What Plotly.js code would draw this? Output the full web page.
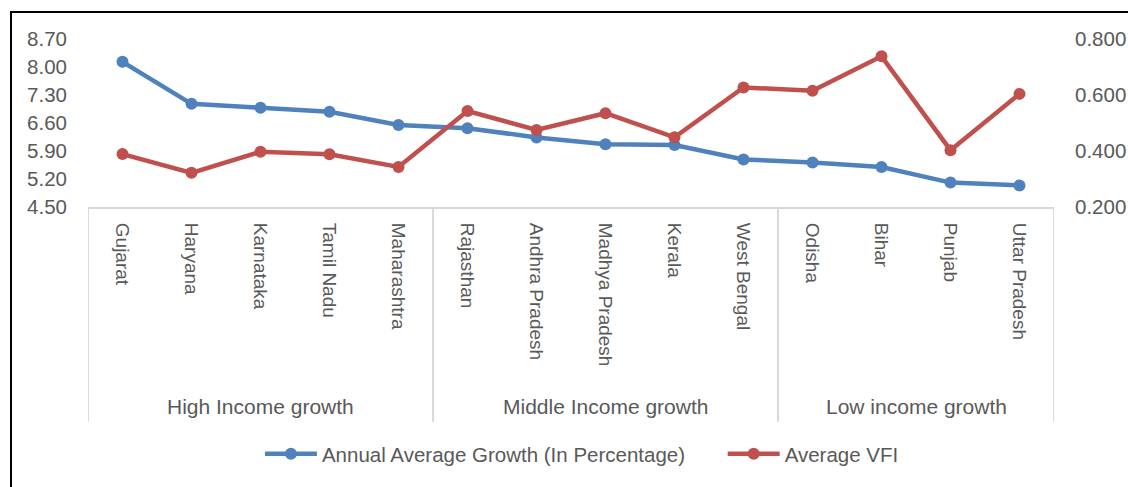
<!DOCTYPE html>
<html>
<head>
<meta charset="utf-8">
<script src="https://cdn.plot.ly/plotly-3.0.1.min.js"></script>
<style>
html,body{margin:0;padding:0;background:#fff;}
#wrap{position:relative;width:1128px;height:487px;overflow:hidden;}
#chart{width:1128px;height:487px;}
#frame{position:absolute;left:10px;top:11px;width:1300px;height:700px;border:2px solid #000;pointer-events:none;}
</style>
</head>
<body>
<div id="wrap"><div id="chart"></div><div id="frame"></div></div>
<script>
const states = ["Gujarat","Haryana","Karnataka","Tamil Nadu","Maharashtra","Rajasthan","Andhra Pradesh","Madhya Pradesh","Kerala","West Bengal","Odisha","Bihar","Punjab","Uttar Pradesh"];
const growth = [8.13,7.08,6.98,6.88,6.55,6.47,6.24,6.07,6.05,5.69,5.61,5.50,5.11,5.04];
const vfi = [0.389,0.322,0.397,0.388,0.343,0.543,0.475,0.535,0.449,0.627,0.615,0.738,0.403,0.604];
const groups = ["High Income growth","Middle Income growth","Low income growth"];
const groupSizes = [5,5,4];
const leftTicks = [4.50,5.20,5.90,6.60,7.30,8.00,8.70];
const rightTicks = [0.200,0.400,0.600,0.800];

const FONT = "'Liberation Sans', Arial, sans-serif";
const GRAY = "#595959";
const LINE = "#D9D9D9";

const traces = [
  {x: states, y: growth, name: "Annual Average Growth (In Percentage)", type: "scatter", mode: "lines+markers",
   line: {color: "#4F81BD", width: 4.5}, marker: {color: "#4F81BD", size: 12}, yaxis: "y", legend: "legend"},
  {x: states, y: vfi, name: "Average VFI", type: "scatter", mode: "lines+markers",
   line: {color: "#C0504D", width: 4.5}, marker: {color: "#C0504D", size: 12}, yaxis: "y2", legend: "legend2"}
];

const shapes = [];
const annotations = [];
let start = 0;
const bounds = [-0.5];
groupSizes.forEach((n, i) => {
  const end = start + n;
  bounds.push(end - 0.5);
  annotations.push({x: (start + end - 1) / 2, xref: "x", y: -1.19, yref: "paper", text: groups[i],
    showarrow: false, font: {family: FONT, size: 21, color: GRAY}, xanchor: "center", yanchor: "middle"});
  start = end;
});
bounds.forEach(b => shapes.push({type: "line", xref: "x", yref: "paper", x0: b, x1: b, y0: -0.006, y1: -1.278,
  line: {color: LINE, width: 2}}));

const legendStyle = {orientation: "h", xanchor: "left", y: -1.47, yanchor: "middle", itemwidth: 52,
  font: {family: FONT, size: 20.5, color: GRAY}};

const layout = {
  width: 1128, height: 487,
  margin: {l: 88, r: 74, t: 39, b: 280, autoexpand: false},
  paper_bgcolor: "#fff", plot_bgcolor: "#fff",
  font: {family: FONT, color: GRAY},
  showlegend: true,
  legend: Object.assign({x: 0.178}, legendStyle),
  legend2: Object.assign({x: 0.657}, legendStyle),
  xaxis: {type: "category", range: [-0.5, 13.5], tickangle: 90, showgrid: false, zeroline: false,
    showline: true, linecolor: LINE, linewidth: 2, ticks: "", ticklabelstandoff: 10,
    tickfont: {family: FONT, size: 19, color: GRAY}, automargin: false, fixedrange: true},
  yaxis: {range: [4.5, 8.7], tickvals: leftTicks, tickformat: ".2f", showgrid: false, zeroline: false,
    showline: false, ticks: "", ticklabelstandoff: 20, tickfont: {family: FONT, size: 20.5, color: GRAY}, automargin: false},
  yaxis2: {range: [0.2, 0.8], tickvals: rightTicks, tickformat: ".3f", overlaying: "y", side: "right",
    showgrid: false, zeroline: false, showline: false, ticks: "", ticklabelstandoff: 20,
    tickfont: {family: FONT, size: 20.5, color: GRAY}, automargin: false},
  shapes: shapes,
  annotations: annotations
};

Plotly.newPlot("chart", traces, layout, {displayModeBar: false, staticPlot: true});
</script>
</body>
</html>
